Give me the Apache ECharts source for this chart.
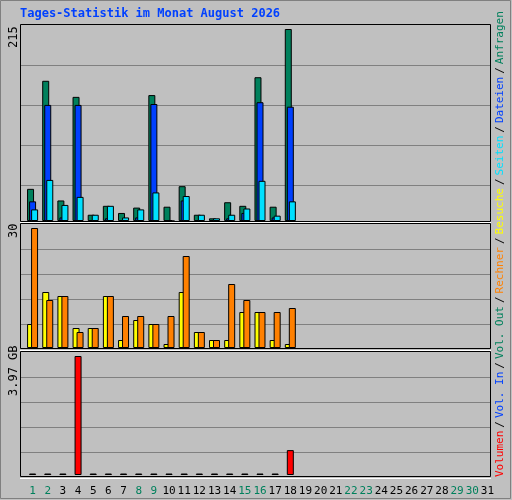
<!DOCTYPE html><html><head><meta charset="utf-8">
<script src="https://cdn.jsdelivr.net/npm/echarts@6/dist/echarts.min.js"></script>
<style>html,body{margin:0;background:#c0c0c0}#c{width:512px;height:500px}</style></head><body><div id="c"></div>
<script>
const days = Array.from({length:31},(_,i)=>String(i+1));
const weekend = [1,2,8,9,15,16,22,23,29,30];
const anfragen = [36,157,23,139,7,17,9,15,141,16,39,7,3,21,17,161,16,215];
const dateien  = [22,130,4,130,0,3,0,4,131,1,23,0,0,3,9,133,4,128];
const seiten   = [13,46,18,27,7,17,4,13,32,0,28,7,3,7,14,45,6,22];
const besuche  = [6,14,13,5,5,13,2,7,6,1,14,4,2,2,9,9,2,1];
const rechner  = [30,12,13,4,5,13,8,8,6,8,23,4,2,16,12,9,9,10];
const volumen  = [0.05,0.05,0.05,3.97,0.05,0.05,0.05,0.05,0.05,0.05,0.05,0.05,0.05,0.05,0.05,0.05,0.05,0.83];
const maxLabels = ['215','30','3.97 GB'];
const font = 'DejaVu Sans Mono';
const L=25, R=17;
const grids=[{left:L,right:R,top:29,height:192},{left:L,right:R,top:228,height:120},{left:L,right:R,top:356,height:119}];
const xAxes=grids.map((g,i)=>({gridIndex:i,type:'category',data:days,axisTick:{show:false},axisLine:{show:false},
  axisLabel:{show:i===2,interval:0,fontFamily:font,fontSize:11,margin:11,
   color:(v)=>weekend.includes(+v)?'#00805c':'#000'}}));
const ymax=[215,30,3.97];
const yAxes=grids.map((g,i)=>({gridIndex:i,type:'value',min:0,max:ymax[i],
  axisLabel:{show:false},axisTick:{show:false},axisLine:{show:false},splitLine:{show:false}}));
const b={borderColor:'#000',borderWidth:1};
const series=[
 {type:'bar',xAxisIndex:0,yAxisIndex:0,data:anfragen,barWidth:7,barGap:'-71%',itemStyle:{color:'#00805c',...b}},
 {type:'bar',xAxisIndex:0,yAxisIndex:0,data:dateien,barWidth:7,barGap:'-71%',itemStyle:{color:'#0040ff',...b}},
 {type:'bar',xAxisIndex:0,yAxisIndex:0,data:seiten,barWidth:7,barGap:'-71%',itemStyle:{color:'#00e0ff',...b}},
 {type:'bar',xAxisIndex:1,yAxisIndex:1,data:besuche,barWidth:7,barGap:'-43%',itemStyle:{color:'#ffff00',...b}},
 {type:'bar',xAxisIndex:1,yAxisIndex:1,data:rechner,barWidth:7,barGap:'-43%',itemStyle:{color:'#ff8000',...b}},
 {type:'bar',xAxisIndex:2,yAxisIndex:2,data:volumen,barWidth:7,itemStyle:{color:'#ff0000',...b}}
];
const gl=[65,105,145,185,249,274,299,324,377,402,427,452];
const graphic=[
  {type:'rect',shape:{x:0.5,y:0.5,width:510,height:498},style:{fill:'none',stroke:'#808080',lineWidth:1}},
  ...gl.map(y=>({type:'line',z:-1,shape:{x1:20,y1:y+0.5,x2:490,y2:y+0.5},style:{stroke:'#808080',lineWidth:1}})),
  {type:'rect',z:10,shape:{x:20.5,y:24.5,width:470,height:197},style:{fill:'none',stroke:'#000',lineWidth:1}},
  {type:'rect',z:10,shape:{x:20.5,y:223.5,width:470,height:125},style:{fill:'none',stroke:'#000',lineWidth:1}},
  {type:'rect',z:10,shape:{x:20.5,y:351.5,width:470,height:125},style:{fill:'none',stroke:'#000',lineWidth:1}},
  {type:'line',z:10,shape:{x1:20,y1:222.5,x2:491,y2:222.5},style:{stroke:'#fff',lineWidth:1}},
  {type:'line',z:10,shape:{x1:20,y1:350.5,x2:491,y2:350.5},style:{stroke:'#fff',lineWidth:1}},
  {type:'line',z:10,shape:{x1:20,y1:478.5,x2:491,y2:478.5},style:{stroke:'#fff',lineWidth:1}},
  {type:'text',x:20,y:8,style:{text:'Tages-Statistik im Monat August 2026',font:'bold 12px "DejaVu Sans Mono"',fill:'#0040ff'}},
  {type:'text',x:8,y:48,rotation:Math.PI/2,style:{text:maxLabels[0],font:'12px "DejaVu Sans Mono"',fill:'#000'}},
  {type:'text',x:8,y:238,rotation:Math.PI/2,style:{text:maxLabels[1],font:'12px "DejaVu Sans Mono"',fill:'#000'}},
  {type:'text',x:8,y:396,rotation:Math.PI/2,style:{text:maxLabels[2],font:'12px "DejaVu Sans Mono"',fill:'#000'}},
  {type:'text',x:495,y:477,rotation:Math.PI/2,style:{font:'11px "DejaVu Sans Mono"',
   text:'{r|Volumen}{k|/}{b|Vol. In}{k|/}{g|Vol. Out}{k|/}{o|Rechner}{k|/}{y|Besuche}{k|/}{c|Seiten}{k|/}{b|Dateien}{k|/}{g|Anfragen}',
   rich:{r:{fill:'#ff0000'},k:{fill:'#000',padding:[0,3]},b:{fill:'#0040ff'},g:{fill:'#00805c'},o:{fill:'#ff8000'},y:{fill:'#ffff00'},c:{fill:'#00e0ff'}}}}
];
const ch=echarts.init(document.getElementById('c'));
ch.setOption({backgroundColor:'#c0c0c0',animation:false,grid:grids,xAxis:xAxes,yAxis:yAxes,series,graphic});
</script></body></html>
